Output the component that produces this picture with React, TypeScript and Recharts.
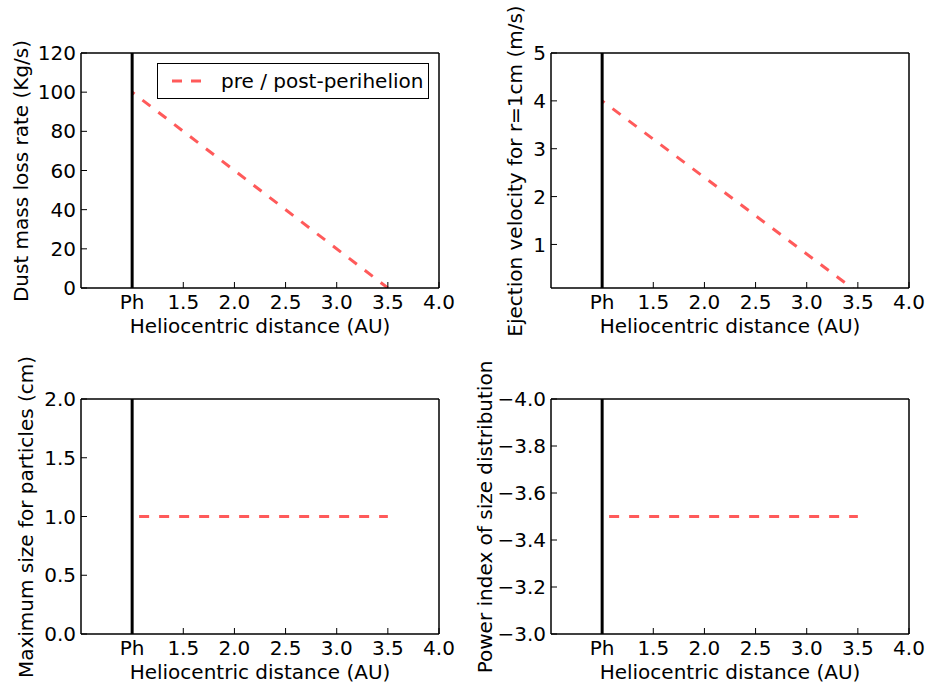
import React from "react";
import { LineChart, Line, XAxis, YAxis, ReferenceLine } from "recharts";

// heliocentric distance (AU)
const distance = [1.0, 3.5];
const massLoss = [100, 0];
const ejectionVel = [4.0, 0];
const maxSize = [1.0, 1.0];
const powerIndex = [-3.5, -3.5];

const xTicks = [1.0, 1.5, 2.0, 2.5, 3.0, 3.5, 4.0];
const perihelion = 1.0;

const massTicks = [0, 20, 40, 60, 80, 100, 120];
const velTicks = [1, 2, 3, 4, 5];
const sizeTicks = [0, 0.5, 1.0, 1.5, 2.0];
const indexTicks = [-4.0, -3.8, -3.6, -3.4, -3.2, -3.0];

const FONT = "'DejaVu Sans', sans-serif";
const RED = "#ff5a5a";
const YW = 81;
const PW = 358;
const PH = 235;
const TM = 20;
const RM = 20;
const XH = 45;

const fmtX = (v: number) => (v === perihelion ? "Ph" : v.toFixed(1));
const minus = (s: string) => s.replace("-", "\u2212");

interface PanelProps {
  left: number;
  top: number;
  values: number[];
  yDomain: [number, number];
  yTicks: number[];
  yFmt: (v: number) => string;
  reversed?: boolean;
  dashOffset: number;
}

function Panel({ left, top, values, yDomain, yTicks, yFmt, reversed, dashOffset }: PanelProps) {
  const data = distance.map((d, i) => ({ d, v: values[i] }));
  const tickStyle = { fontSize: 20, fill: "#000", fontFamily: FONT };
  const frame = { stroke: "#000", strokeWidth: 1.5 };
  const tl = { stroke: "#000", strokeWidth: 1 };
  return (
    <div style={{ position: "absolute", left: left - YW, top: top - TM }}>
      <LineChart
        width={YW + PW + RM}
        height={TM + PH + XH}
        data={data}
        margin={{ top: TM - 1, right: RM - 1, left: 0, bottom: 0 }}
      >
        <XAxis
          dataKey="d"
          type="number"
          domain={[0.5, 4.0]}
          ticks={xTicks}
          tickFormatter={fmtX}
          height={XH}
          tickSize={-6}
          tickMargin={13}
          tick={tickStyle}
          axisLine={frame}
          tickLine={tl}
          allowDataOverflow
        />
        <XAxis
          xAxisId="top"
          dataKey="d"
          orientation="top"
          type="number"
          domain={[0.5, 4.0]}
          ticks={xTicks}
          height={1}
          tickSize={-6}
          tick={false}
          axisLine={frame}
          tickLine={tl}
          allowDataOverflow
        />
        <YAxis
          type="number"
          domain={yDomain}
          ticks={yTicks}
          tickFormatter={yFmt}
          reversed={reversed}
          width={YW}
          tickSize={-6}
          tickMargin={11}
          tick={tickStyle}
          axisLine={frame}
          tickLine={tl}
          allowDataOverflow
        />
        <YAxis
          yAxisId="right"
          orientation="right"
          type="number"
          domain={yDomain}
          ticks={yTicks}
          reversed={reversed}
          width={1}
          tickSize={-6}
          tick={false}
          axisLine={frame}
          tickLine={tl}
          allowDataOverflow
        />
        {/* invisible series so the top/right frame axes get drawn */}
        <Line
          xAxisId="top"
          yAxisId="right"
          dataKey="v"
          stroke="none"
          dot={false}
          activeDot={false}
          isAnimationActive={false}
        />
        <Line
          dataKey="v"
          stroke={RED}
          strokeWidth={3}
          strokeDasharray="10 10"
          strokeDashoffset={dashOffset}
          dot={false}
          activeDot={false}
          isAnimationActive={false}
        />
        <ReferenceLine x={perihelion} stroke="#000" strokeWidth={3} />
      </LineChart>
    </div>
  );
}

const yLabelStyle = (x: number, y: number): React.CSSProperties => ({
  position: "absolute",
  left: x,
  top: y,
  transform: "translate(-50%, -50%) rotate(-90deg)",
  whiteSpace: "nowrap",
  fontSize: 20,
  fontFamily: FONT,
  color: "#000",
});

const xLabelStyle = (x: number, y: number): React.CSSProperties => ({
  position: "absolute",
  left: x,
  top: y,
  transform: "translate(-50%, -50%)",
  whiteSpace: "nowrap",
  fontSize: 20,
  fontFamily: FONT,
  color: "#000",
});

export default function App() {
  return (
    <div
      style={{
        position: "absolute",
        left: 0,
        top: 0,
        width: 930,
        height: 688,
        background: "#fff",
        fontFamily: FONT,
      }}
    >
      <Panel left={81} top={53} values={massLoss} yDomain={[0, 120]} yTicks={massTicks} yFmt={(v) => String(v)} dashOffset={7} />
      <Panel left={551} top={53} values={ejectionVel} yDomain={[0.09, 5]} yTicks={velTicks} yFmt={(v) => String(v)} dashOffset={7} />
      <Panel left={81} top={399} values={maxSize} yDomain={[0, 2]} yTicks={sizeTicks} yFmt={(v) => v.toFixed(1)} dashOffset={13} />
      <Panel left={551} top={399} values={powerIndex} yDomain={[-4, -3]} yTicks={indexTicks} yFmt={(v) => minus(v.toFixed(1))} reversed dashOffset={13} />

      <div style={yLabelStyle(21, 171)}>Dust mass loss rate (Kg/s)</div>
      <div style={yLabelStyle(515, 171)}>Ejection velocity for r=1cm (m/s)</div>
      <div style={yLabelStyle(26, 517)}>Maximum size for particles (cm)</div>
      <div style={yLabelStyle(485, 517)}>Power index of size distribution</div>

      <div style={xLabelStyle(260, 326)}>Heliocentric distance (AU)</div>
      <div style={xLabelStyle(730, 326)}>Heliocentric distance (AU)</div>
      <div style={xLabelStyle(260, 672)}>Heliocentric distance (AU)</div>
      <div style={xLabelStyle(730, 672)}>Heliocentric distance (AU)</div>

      {/* legend */}
      <div
        style={{
          position: "absolute",
          left: 157,
          top: 63,
          width: 272,
          height: 36,
          boxSizing: "border-box",
          border: "1.5px solid #000",
          background: "#fff",
          display: "flex",
          alignItems: "center",
        }}
      >
        <svg width={50} height={10} style={{ marginLeft: 12 }}>
          <line x1={2} y1={5} x2={31} y2={5} stroke={RED} strokeWidth={3} strokeDasharray="10 9" />
        </svg>
        <span style={{ fontSize: 20, marginLeft: 1 }}>pre / post-perihelion</span>
      </div>
    </div>
  );
}
